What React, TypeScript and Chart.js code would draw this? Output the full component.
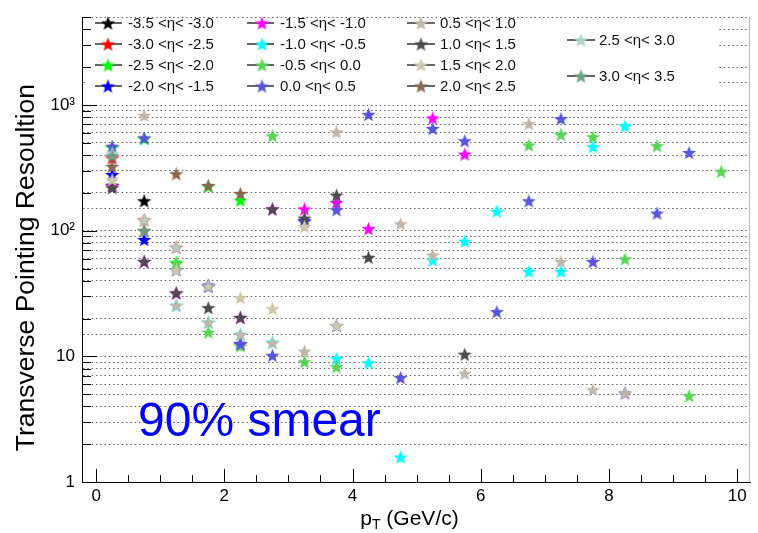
import React, { useEffect, useRef } from "react";
import { Chart, registerables } from "chart.js";

Chart.register(...registerables);

// ---------- data ----------
const ptBins = [0.25, 0.75, 1.25, 1.75, 2.25, 2.75, 3.25, 3.75, 4.25, 4.75, 5.25, 5.75, 6.25, 6.75, 7.25, 7.75, 8.25, 8.75, 9.25, 9.75];

const etaLabels = [
  "-3.5 <η< -3.0", "-3.0 <η< -2.5", "-2.5 <η< -2.0", "-2.0 <η< -1.5",
  "-1.5 <η< -1.0", "-1.0 <η< -0.5", "-0.5 <η< 0.0", "0.0 <η< 0.5",
  "0.5 <η< 1.0", "1.0 <η< 1.5", "1.5 <η< 2.0", "2.0 <η< 2.5",
  "2.5 <η< 3.0", "3.0 <η< 3.5",
];

const seriesColors = [
  "#000000", "#ff0000", "#00ff00", "#0000ff",
  "#ff00ff", "#00ffff", "#59d454", "#5954d9",
  "#c0b6ac", "#4c4c4c", "#ccc7ab", "#876656",
  "#b0cfc7", "#6e9c83",
];

type V = number | null;
const etaM35: V[] = [230, 173];
const etaM30: V[] = [380, 122, 74];
const etaM25: V[] = [460, 540, 56, 226, 175];
const etaM20: V[] = [280, 85, 49, 36, 12.6, null, 120, 17.6];
const etaM15: V[] = [227, 57, 32, null, 20.4, 149, 149, 168, 104, null, 788, 407];
const etaM10: V[] = [null, null, 25.5, 18.7, 15, 13, null, 9.6, 8.9, 1.58, 58.5, 82.5, 143, 47.5, 47.5, 467, 682];
const etaM05: V[] = [null, null, 55, 15.6, 12.1, 569, 9.06, 8.27, null, null, null, null, null, 481, 584, 559, 59.6, 475, 4.87, 297];
const etaP00: V[] = [470, 549, null, 37, 12.6, 10.2, 118, 147, 842, 6.78, 651, 520, 22.7, 173, 780, 56.9, 5.11, 138, 419];
const etaP05: V[] = [null, 827, 25.5, 18.7, 14.9, 12.8, 11, 612, null, 113.5, 64, 7.33, null, 712, 56.9, 5.43, 5.11];
const etaP10: V[] = [220, 56.9, 32, 24.4, 20.4, 149, 126, 192, 61.4, null, null, 10.4];
const etaP15: V[] = [256, null, 48.8, 36.2, 29.3, 24, 108, 17.6];
const etaP20: V[] = [325, 100.5, 284, 229, 198];
const etaP25: V[] = [414, 122, 74];
const etaP30: V[] = [395, 100];

const seriesValues: V[][] = [
  etaM35, etaM30, etaM25, etaM20, etaM15, etaM10, etaM05,
  etaP00, etaP05, etaP10, etaP15, etaP20, etaP25, etaP30,
];

const yTickLabels: Record<number, string> = { 1: "1", 10: "10", 100: "10²", 1000: "10³" };
const xTickLabels: Record<number, string> = { 0: "0", 2: "2", 4: "4", 6: "6", 8: "8", 10: "10" };

const yTitle = "Transverse Pointing Resoultion";
const annotation = "90% smear";

// ---------- helpers ----------
const FONT = '"Liberation Sans", Arial, Helvetica, sans-serif';

function makeStar(color: string, size = 15): HTMLCanvasElement {
  const c = document.createElement("canvas");
  c.width = size;
  c.height = size;
  const ctx = c.getContext("2d")!;
  const cx = size / 2;
  const cy = size / 2 + 0.8;
  const R = size / 2;
  const r = R * 0.42;
  ctx.beginPath();
  for (let i = 0; i < 10; i++) {
    const a = -Math.PI / 2 + (i * Math.PI) / 5;
    const rad = i % 2 === 0 ? R : r;
    ctx.lineTo(cx + rad * Math.cos(a), cy + rad * Math.sin(a));
  }
  ctx.closePath();
  ctx.fillStyle = color;
  ctx.fill();
  return c;
}

export default function App() {
  const ref = useRef<HTMLCanvasElement | null>(null);

  useEffect(() => {
    document.body.style.margin = "0";
    const canvas = ref.current!;
    const stars = seriesColors.map((c) => makeStar(c));
    const N = seriesValues.length;

    const datasets = seriesValues.map((vals, i) => ({
      label: etaLabels[i],
      data: ptBins
        .map((x, j) => (vals[j] == null || vals[j] === undefined ? null : { x, y: vals[j] as number }))
        .filter((p) => p !== null) as { x: number; y: number }[],
      pointStyle: stars[i] as any,
      pointRadius: 7,
      showLine: false,
      order: N - i,
      backgroundColor: seriesColors[i],
      borderColor: seriesColors[i],
    }));

    const decor = {
      id: "rootDecor",
      afterDraw(chart: any) {
        const { ctx, chartArea: ca, scales } = chart;
        const xs = scales.x;
        const ys = scales.y;
        ctx.save();

        // legend box (white, no border)
        ctx.fillStyle = "#ffffff";
        ctx.fillRect(ca.left + 4, ca.top + 1, 632, 85);

        const colX = [
          { l0: 95, l1: 122, star: 108, text: 128 },
          { l0: 247, l1: 274, star: 262, text: 280 },
          { l0: 407, l1: 435, star: 421, text: 440 },
          { l0: 567, l1: 595, star: 581, text: 599 },
        ];
        const rows4 = [23, 44, 65, 86];
        const rows2 = [40, 76];
        ctx.font = `15px ${FONT}`;
        ctx.textBaseline = "middle";
        ctx.textAlign = "left";
        for (let i = 0; i < N; i++) {
          const col = Math.min(Math.floor(i / 4), 3);
          const y = col < 3 ? rows4[i % 4] : rows2[i - 12];
          const cx = colX[col];
          ctx.strokeStyle = "#333";
          ctx.lineWidth = 1.5;
          ctx.beginPath();
          ctx.moveTo(cx.l0, y);
          ctx.lineTo(cx.l1, y);
          ctx.stroke();
          ctx.drawImage(stars[i], cx.star - 7.5, y - 7.5);
          ctx.fillStyle = "#111";
          ctx.fillText(etaLabels[i], cx.text, y + 1);
        }

        // inward ticks
        ctx.strokeStyle = "#000";
        ctx.lineWidth = 1;
        ctx.beginPath();
        for (let k = 0; k <= 3; k++) {
          for (let m = 1; m <= 9; m++) {
            const v = m * Math.pow(10, k);
            if (v > ys.max) continue;
            const py = Math.round(ys.getPixelForValue(v)) + 0.5;
            const len = m === 1 ? 15 : 9;
            ctx.moveTo(ca.left, py);
            ctx.lineTo(ca.left + len, py);
          }
        }
        for (let i = 0; i <= 20; i++) {
          const v = i * 0.5;
          const px = Math.round(xs.getPixelForValue(v)) + 0.5;
          const len = i % 4 === 0 ? 13 : 7;
          ctx.moveTo(px, ca.bottom);
          ctx.lineTo(px, ca.bottom - len);
        }
        ctx.stroke();

        // right frame
        ctx.strokeStyle = "#bbb";
        ctx.beginPath();
        ctx.moveTo(ca.right - 0.5, ca.top);
        ctx.lineTo(ca.right - 0.5, ca.bottom);
        ctx.stroke();

        // y title
        ctx.fillStyle = "#000";
        ctx.save();
        ctx.translate(27, 84);
        ctx.rotate(-Math.PI / 2);
        ctx.font = `26.5px ${FONT}`;
        ctx.textAlign = "right";
        ctx.textBaseline = "middle";
        ctx.fillText(yTitle, 0, 0);
        ctx.restore();

        // x title p_T (GeV/c)
        ctx.textAlign = "left";
        ctx.textBaseline = "alphabetic";
        ctx.font = `21px ${FONT}`;
        const wP = ctx.measureText("p").width;
        ctx.font = `14px ${FONT}`;
        const wT = ctx.measureText("T").width;
        ctx.font = `21px ${FONT}`;
        const rest = " (GeV/c)";
        const wR = ctx.measureText(rest).width;
        const total = wP + wT + wR;
        const x0 = 409.5 - total / 2;
        const base = 525;
        ctx.fillText("p", x0, base);
        ctx.font = `14px ${FONT}`;
        ctx.fillText("T", x0 + wP, base + 4);
        ctx.font = `21px ${FONT}`;
        ctx.fillText(rest, x0 + wP + wT, base);

        // annotation
        ctx.fillStyle = "#0000ff";
        ctx.font = `48px ${FONT}`;
        ctx.fillText(annotation, 138, 436);

        ctx.restore();
      },
    };

    const chart = new Chart(canvas, {
      type: "scatter",
      data: { datasets },
      options: {
        animation: false,
        responsive: false,
        devicePixelRatio: 1,
        layout: { padding: { top: 11, right: 1, left: 0, bottom: 0 } },
        plugins: { legend: { display: false }, tooltip: { enabled: false } },
        scales: {
          x: {
            type: "linear",
            min: -0.22,
            max: 10.2,
            grid: { display: false, drawTicks: false },
            border: { display: true, color: "#000", width: 1 },
            ticks: {
              stepSize: 0.5,
              includeBounds: false,
              autoSkip: false,
              maxRotation: 0,
              padding: 4,
              color: "#000",
              font: { family: FONT, size: 17 },
              callback: (v: any) => (xTickLabels[v] !== undefined ? xTickLabels[v] : ""),
            },
            afterFit: (s: any) => {
              s.height = 51;
            },
          },
          y: {
            type: "logarithmic",
            min: 1,
            max: 5000,
            grid: { display: true, drawTicks: false, color: "rgba(60,60,60,0.8)", lineWidth: 1 },
            border: { display: true, color: "#000", width: 1, dash: [1.5, 2.8] },
            ticks: {
              autoSkip: false,
              padding: 7,
              color: "#000",
              font: { family: FONT, size: 17 },
              callback: (v: any) => (yTickLabels[v] !== undefined ? yTickLabels[v] : ""),
            },
            afterFit: (s: any) => {
              s.width = 82;
            },
          },
        },
      },
      plugins: [decor],
    });

    return () => chart.destroy();
  }, []);

  return (
    <div style={{ width: 758, height: 533, background: "#fff" }}>
      <canvas ref={ref} width={758} height={533} style={{ display: "block" }} />
    </div>
  );
}
